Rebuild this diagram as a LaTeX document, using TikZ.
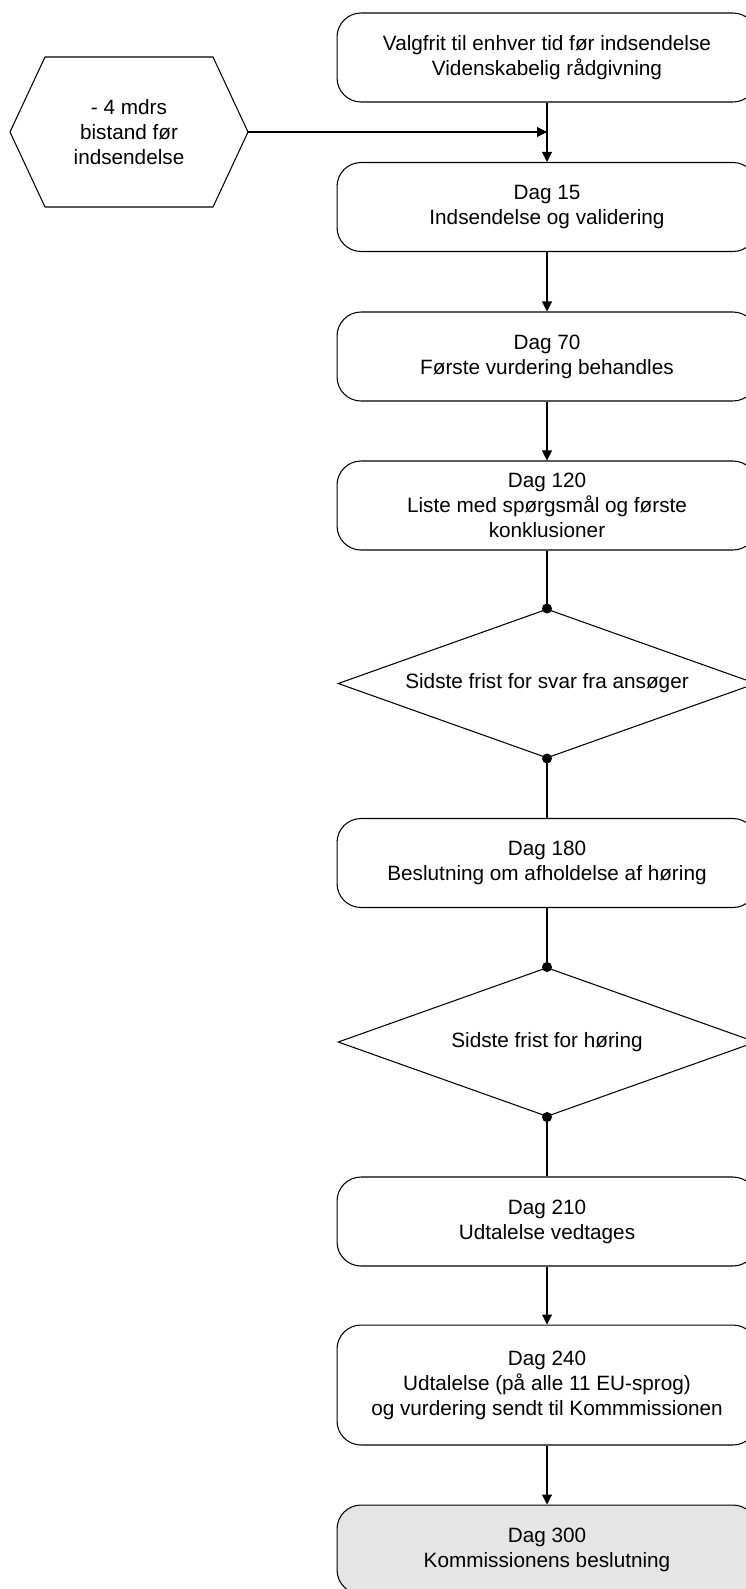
\documentclass[tikz,border=0pt]{standalone}
\usepackage{fontspec}
\setmainfont{Liberation Sans}
\usetikzlibrary{arrows.meta,shapes.geometric}

\begin{document}
\begin{tikzpicture}[x=0.02cm, y=-0.02cm, semithick,
    every node/.style={font=\fontsize{11.8}{14.2}\selectfont, align=center},
    stage/.style={draw, rounded corners=0.48cm, minimum width=8.4cm, minimum height=1.78cm, inner sep=0pt},
    deadline/.style={draw, diamond, aspect=2.8, minimum width=8.36cm, minimum height=2.98cm, inner sep=0pt},
    flow/.style={-{Triangle[length=0.2cm, width=0.2cm]}}]
    \useasboundingbox (0,0) rectangle (746,1589);

    \node[stage] (advice) at (547,57.5) {Valgfrit til enhver tid før indsendelse\\Videnskabelig rådgivning};
    \node[stage] (d15) at (547,207) {Dag 15\\Indsendelse og validering};
    \node[stage] (d70) at (547,356.5) {Dag 70\\Første vurdering behandles};
    \node[stage] (d120) at (547,505.5) {Dag 120\\Liste med spørgsmål og første\\konklusioner};
    \node[deadline] (answer) at (547,683.5) {Sidste frist for svar fra ansøger};
    \node[stage] (d180) at (547,863) {Dag 180\\Beslutning om afholdelse af høring};
    \node[deadline] (hearing) at (547,1042) {Sidste frist for høring};
    \node[stage] (d210) at (547,1221.5) {Dag 210\\Udtalelse vedtages};
    \node[stage, minimum height=2.4cm] (d240) at (547,1385) {Dag 240\\Udtalelse (på alle 11 EU-sprog)\\og vurdering sendt til Kommmissionen};
    \node[stage, fill=black!10] (d300) at (547,1549.5) {Dag 300\\Kommissionens beslutning};

    % hexagon on the left
    \node (presub) at (129,132) {- 4 mdrs\\bistand før\\indsendelse};
    \draw (10,132) -- (45,57) -- (213,57) -- (248,132) -- (213,207) -- (45,207) -- cycle;
    \coordinate (hexR) at (248,132);
    \coordinate (join) at (547,132);

    \draw[flow] (hexR) -- (join);
    \draw[flow] (advice) -- (d15);
    \draw[flow] (d15) -- (d70);
    \draw[flow] (d70) -- (d120);
    \draw (d120) -- (answer.north);
    \draw (answer.south) -- (d180);
    \draw (d180) -- (hearing.north);
    \draw (hearing.south) -- (d210);
    \draw[flow] (d210) -- (d240);
    \draw[flow] (d240) -- (d300);

    \foreach \p in {answer.north,answer.south,hearing.north,hearing.south} \fill (\p) circle (0.1cm);
\end{tikzpicture}
\end{document}
